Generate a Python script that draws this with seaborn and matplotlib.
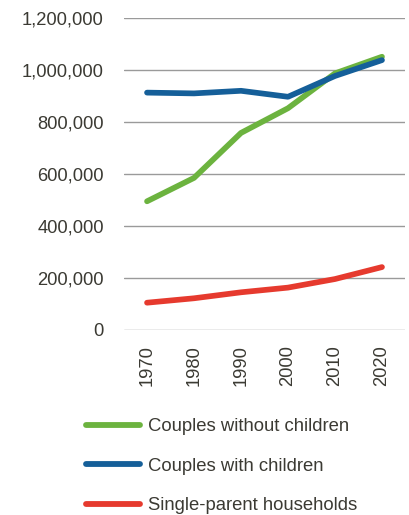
import matplotlib
matplotlib.use("Agg")
import matplotlib.pyplot as plt
import seaborn as sns
import pandas as pd
from matplotlib.ticker import FuncFormatter

years = [1970, 1980, 1990, 2000, 2010, 2020]
couples_without_children = [495000, 585000, 758000, 853000, 987000, 1051000]
couples_with_children = [913000, 910000, 920000, 897000, 977000, 1038000]
single_parent = [105000, 122000, 145000, 163000, 196000, 242000]

series_names = ["Couples without children", "Couples with children", "Single-parent households"]
series_colors = ["#6cb33f", "#155f99", "#e63a2e"]
y_ticks = [0, 200000, 400000, 600000, 800000, 1000000, 1200000]

df = pd.DataFrame({
    "year": years * 3,
    "households": couples_without_children + couples_with_children + single_parent,
    "type": [series_names[0]] * 6 + [series_names[1]] * 6 + [series_names[2]] * 6,
})

sns.set_style("white")
plt.rcParams["font.family"] = ["Liberation Sans", "DejaVu Sans"]
text_color = "#3b3a33"

fig = plt.figure(figsize=(4.09, 5.15), dpi=100)
ax = fig.add_axes([124 / 409, 1 - 330 / 515, 281 / 409, 312 / 515])

sns.lineplot(data=df, x="year", y="households", hue="type",
             palette=dict(zip(series_names, series_colors)),
             linewidth=4.1, ax=ax, legend=False,
             solid_capstyle="round", solid_joinstyle="round")

ax.set_xlim(1965.1, 2024.9)
ax.set_ylim(0, 1200000)
ax.set_yticks(y_ticks)
ax.yaxis.set_major_formatter(FuncFormatter(lambda v, p: f"{int(v):,}"))
ax.set_xticks(years)
ax.set_xticklabels([str(y) for y in years], rotation=90)
ax.tick_params(axis="y", length=0, pad=14.5, labelsize=13.2, labelcolor=text_color)
ax.tick_params(axis="x", length=0, pad=11, labelsize=13.2, labelcolor=text_color)
for lbl in ax.get_xticklabels():
    lbl.set_verticalalignment("top")
ax.grid(axis="y", color="#9a9a9a", linewidth=1.0)
ax.set_axisbelow(True)
for s in ax.spines.values():
    s.set_visible(False)
ax.set_xlabel("")
ax.set_ylabel("")
for line in ax.get_lines():
    line.set_clip_on(False)

handles = [plt.Line2D([], [], color=c, linewidth=4.2, solid_capstyle="round") for c in series_colors]
leg = fig.legend(handles, series_names, loc="upper left",
                 bbox_to_anchor=(86 / 409, 1 - 418 / 515), frameon=False,
                 fontsize=13.3, handlelength=2.9, handletextpad=0.45,
                 labelspacing=1.22, borderaxespad=0, borderpad=0)
for t in leg.get_texts():
    t.set_color(text_color)

fig.savefig("out.png", dpi=100)
